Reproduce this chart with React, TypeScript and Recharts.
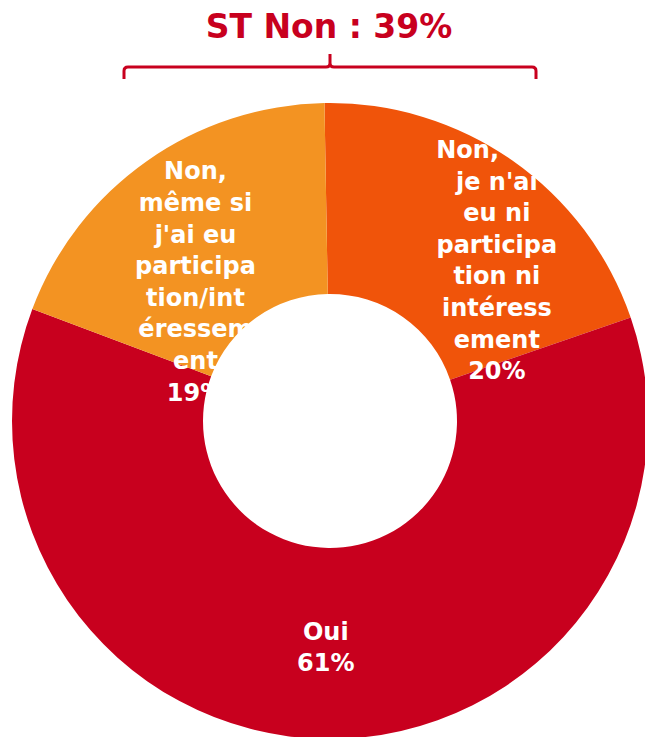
import { Cell, Pie, PieChart } from "recharts";

// slices in drawing order (clockwise from the top)
const categories = [
  "Non, je n'ai eu ni participation ni intéressement",
  "Oui",
  "Non, même si j'ai eu participation/intéressement",
];
const values = [20, 61, 19];
// label text as it wraps in the original (the first line of the right label sits off-centre)
const labelLines = [
  ["Non,\u00a0\u00a0\u00a0\u00a0\u00a0\u00a0\u00a0", "je n'ai", "eu ni", "participa", "tion ni", "intéress", "ement"],
  ["Oui"],
  ["Non,", "même si", "j'ai eu", "participa", "tion/int", "éressem", "ent"],
];
const colors = ["#F0540A", "#C8001E", "#F39322"];
const bracketTitle = "ST Non : 39%";

const data = categories.map((name, i) => ({ name, value: values[i] }));

const RED = "#C8001E";
const FONT = "'DejaVu Sans', Verdana, sans-serif";
const WIDTH = 645;
const HEIGHT = 737;
const CX = 330;
const CY = 421;
const LINE_H = 31.6;
// small shifts of each label from its slice's mid point
const labelNudge = [
  [37, 25],
  [-1, 0],
  [-4, 46],
];

const RADIAN = Math.PI / 180;

function renderLabel(props: any) {
  const { cx, cy, midAngle, outerRadius, index, value } = props;
  const r = outerRadius * 0.712;
  const x = cx + r * Math.cos(-midAngle * RADIAN) + labelNudge[index][0];
  const y = cy + r * Math.sin(-midAngle * RADIAN) + labelNudge[index][1];
  const lines = [...labelLines[index], `${value}%`];
  const top = y - ((lines.length - 1) * LINE_H) / 2;

  return (
    <text
      x={x}
      y={top}
      fill="#fff"
      fontFamily={FONT}
      fontWeight="bold"
      fontSize={24}
      textAnchor="middle"
      dominantBaseline="central"
      style={{ whiteSpace: "pre" }}
    >
      {lines.map((line, i) => (
        <tspan key={i} x={x} y={top + i * LINE_H}>
          {line}
        </tspan>
      ))}
    </text>
  );
}

export default function App() {
  return (
    <div style={{ position: "absolute", left: 0, top: 0, width: WIDTH, height: HEIGHT }}>
      <PieChart width={WIDTH} height={HEIGHT} margin={{ top: 0, right: 0, bottom: 0, left: 0 }}>
        <Pie
          data={data}
          dataKey="value"
          nameKey="name"
          cx={CX}
          cy={CY}
          innerRadius={127}
          outerRadius={318}
          startAngle={91}
          endAngle={-269}
          stroke="none"
          labelLine={false}
          label={renderLabel}
          isAnimationActive={false}
        >
          {data.map((entry, i) => (
            <Cell key={entry.name} fill={colors[i]} />
          ))}
        </Pie>
      </PieChart>

      <svg
        width={WIDTH}
        height={HEIGHT}
        style={{ position: "absolute", left: 0, top: 0, pointerEvents: "none" }}
      >
        <text
          x={329}
          y={38}
          fill={RED}
          fontFamily={FONT}
          fontWeight="bold"
          fontSize={33}
          textAnchor="middle"
        >
          {bracketTitle}
        </text>
        <path
          d="M124 79 L124 71 Q124 67 128 67 L326 67 Q330 67 330 63 L330 54 M330 63 Q330 67 334 67 L532 67 Q536 67 536 71 L536 79"
          fill="none"
          stroke={RED}
          strokeWidth={3}
        />
      </svg>
    </div>
  );
}
